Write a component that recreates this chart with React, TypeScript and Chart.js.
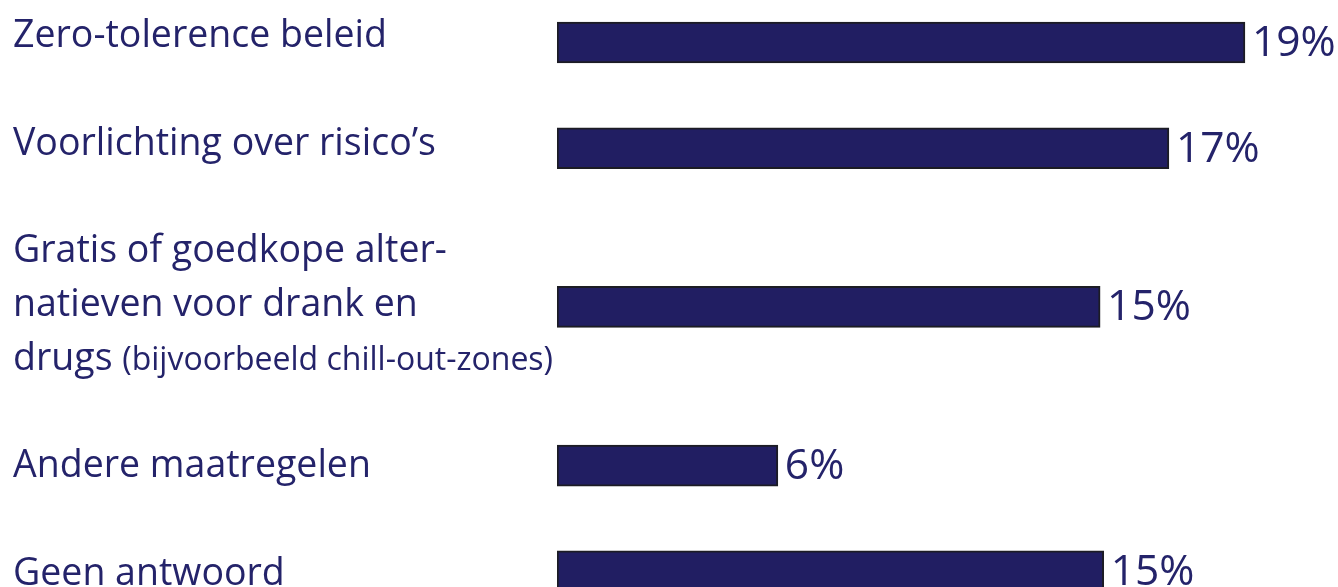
import React, { useEffect, useRef } from "react";
import { Chart, registerables } from "chart.js";

Chart.register(...registerables);

// ---- Data ----
const categories: string[][] = [
  ["Zero-tolerence beleid"],
  ["Voorlichting over risico’s"],
  ["Gratis of goedkope alter-", "natieven voor drank en", "drugs"],
  ["Andere maatregelen"],
  ["Geen antwoord"],
];
const categoryNotes: string[] = ["", "", "(bijvoorbeeld chill-out-zones)", "", ""];
const values: number[] = [19, 16.9, 15.0, 6.1, 15.1];

// ---- Styles ----
const BAR_COLOR = "#211e62";
const BORDER_COLOR = "#1c1c24";
const TEXT_COLOR = "#24236a";
const FONT = '"Open Sans", "Noto Sans", sans-serif';

// Row layout derived from label line counts (each item followed by one blank line)
const lineStart: number[] = [];
const barRow: number[] = [];
{
  let cur = 0;
  categories.forEach((lines) => {
    lineStart.push(cur);
    barRow.push(cur + (lines.length - 1) / 2);
    cur += lines.length + 1;
  });
}

const labelPlugin = {
  id: "sideLabels",
  afterDatasetsDraw(chart: any) {
    const ctx = chart.ctx as CanvasRenderingContext2D;
    const yl = chart.scales.yl;
    ctx.save();
    ctx.fillStyle = TEXT_COLOR;
    ctx.textAlign = "left";
    ctx.textBaseline = "alphabetic";
    categories.forEach((lines, i) => {
      lines.forEach((line, j) => {
        const y = yl.getPixelForValue(lineStart[i] + j);
        ctx.font = `37.5px ${FONT}`;
        ctx.fillText(line, 13, y);
        if (j === lines.length - 1 && categoryNotes[i]) {
          const w = ctx.measureText(line + " ").width;
          ctx.font = `32px ${FONT}`;
          ctx.fillText(categoryNotes[i], 13 + w, y);
        }
      });
    });
    const meta = chart.getDatasetMeta(0);
    ctx.font = `42.5px ${FONT}`;
    meta.data.forEach((el: any, i: number) => {
      ctx.fillText(`${Math.round(values[i])}%`, el.x + 7, el.y + 13.5);
    });
    ctx.restore();
  },
};

export default function App() {
  const ref = useRef<HTMLCanvasElement | null>(null);

  useEffect(() => {
    document.body.style.margin = "0";
    const canvas = ref.current!;
    const chart = new Chart(canvas, {
      type: "bar",
      data: {
        datasets: [
          {
            data: values.map((v, i) => ({ x: v, y: barRow[i] })),
            backgroundColor: BAR_COLOR,
            borderColor: BORDER_COLOR,
            borderWidth: 2,
            borderSkipped: false,
            barThickness: 41,
          } as any,
        ],
      },
      options: {
        indexAxis: "y",
        responsive: false,
        animation: false,
        devicePixelRatio: 1,
        layout: { padding: { left: 557, right: 0, top: 0, bottom: 0 } },
        plugins: {
          legend: { display: false },
          tooltip: { enabled: false },
          title: { display: false },
        },
        scales: {
          x: {
            type: "linear",
            display: false,
            offset: false,
            min: 0,
            max: 21.57,
            bounds: "data",
          },
          y: {
            type: "linear",
            display: false,
            offset: false,
            grid: { offset: false },
            reverse: true,
            min: -0.8036,
            max: 10.295,
            bounds: "data",
          },
          yl: {
            type: "linear",
            axis: "y",
            display: false,
            offset: false,
            grid: { offset: false },
            reverse: true,
            min: -0.8736,
            max: 10.037,
            bounds: "data",
          },
        },
      } as any,
      plugins: [labelPlugin],
    });
    if ((document as any).fonts && (document as any).fonts.load) {
      Promise.all([
        (document as any).fonts.load(`37px "Open Sans"`),
        (document as any).fonts.load(`42px "Open Sans"`),
      ]).then(() => chart.update()).catch(() => {});
    }
    return () => chart.destroy();
  }, []);

  return (
    <div style={{ width: 1338, height: 587, background: "#ffffff" }}>
      <canvas ref={ref} width={1338} height={587} style={{ display: "block" }} />
    </div>
  );
}
